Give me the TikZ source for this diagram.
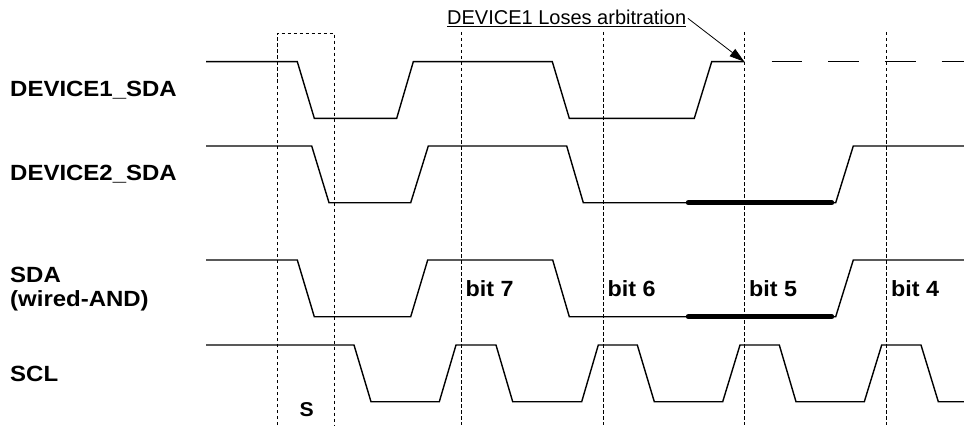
\documentclass[tikz,border=0pt]{standalone}
\usepackage{fontspec}
\setmainfont{Liberation Sans}
\newfontfamily\widefont[FakeStretch=1.06]{Liberation Sans}
\newfontfamily\widerfont[FakeStretch=1.09]{Liberation Sans}
\usetikzlibrary{arrows.meta}
\begin{document}
\begin{tikzpicture}[x=1pt,y=-1pt,
  sig/.style={line width=1.4pt, line join=miter},
  thick bus/.style={line width=5pt, line cap=round},
  grid line/.style={line width=0.8pt, dash pattern=on 3.5pt off 2.5pt},
  lost/.style={line width=1.4pt, dash pattern=on 30.6pt off 26pt},
  siglabel/.style={anchor=base west, inner sep=0pt, font=\widerfont\bfseries\fontsize{22}{24.4}\selectfont, align=left},
  bitlabel/.style={anchor=base west, inner sep=0pt, font=\widefont\bfseries\fontsize{22}{24}\selectfont},
  note/.style={anchor=base west, inner sep=1.5pt, font=\fontsize{20}{22}\selectfont}]
\useasboundingbox (0,0) rectangle (964,428);

% signal names
\node[siglabel] (l1) at (10,96.7) {DEVICE1\_SDA};
\node[siglabel] (l2) at (10,180.8) {DEVICE2\_SDA};
\node[siglabel] (l3) at (10,306.7) {SDA\\(wired-AND)};
\node[siglabel] (l4) at (10,381) {SCL};

% dashed grid
\draw[grid line] (277.3,425) -- (277.3,33.3) -- (334.3,33.3) -- (334.3,425);
\foreach \x in {461.7,603.3,744.3,886.7}
  \draw[grid line] (\x,32) -- (\x,425);

% DEVICE1_SDA
\draw[sig] (206,61.7) -- (297.3,61.7) -- (314.3,118.3) -- (396.7,118.3) -- (413.3,61.7)
  -- (552.3,61.7) -- (569.3,118.3) -- (694.3,118.3) -- (711.7,61.7) -- (744.3,61.7);
\draw[lost] (771.7,61.7) -- (964,61.7);

% DEVICE2_SDA
\draw[sig] (206,146) -- (311.7,146) -- (329,202.7) -- (410.7,202.7) -- (428.3,146)
  -- (566.7,146) -- (583.3,202.7) -- (835.7,202.7) -- (853.3,146) -- (964,146);
\draw[thick bus] (688.3,202.7) -- (831.7,202.7);

% SDA
\draw[sig] (206,260) -- (297.3,260) -- (314.3,316.7) -- (410.7,316.7) -- (427.7,260)
  -- (552.7,260) -- (569.3,316.7) -- (835.7,316.7) -- (853.3,260) -- (964,260);
\draw[thick bus] (688.3,316.7) -- (831.7,316.7);

% SCL
\draw[sig] (206,345) -- (354,345) -- (371,401.7) -- (439.3,401.7) -- (456,345)
  -- (496,345) -- (512.7,401.7) -- (581.7,401.7) -- (598.3,345) -- (637.3,345)
  -- (654.3,401.7) -- (722.7,401.7) -- (740,345) -- (779.3,345) -- (796,401.7)
  -- (864.3,401.7) -- (881.7,345) -- (921,345) -- (938.3,401.7) -- (964,401.7);

% bit labels
\node[bitlabel] (b7) at (465.5,296) {bit 7};
\node[bitlabel] (b6) at (607.5,296) {bit 6};
\node[bitlabel] (b5) at (749,296) {bit 5};
\node[bitlabel] (b4) at (891,296) {bit 4};
\node[bitlabel, font=\widefont\bfseries\fontsize{20}{22}\selectfont] (s) at (299.5,416) {S};

% annotation
\node[note] (lose) at (445.5,24.5) {\underline{DEVICE1 Loses arbitration}};
\coordinate (lostpt) at (744.3,61.7);
\draw[line width=0.8pt, -{Triangle[length=15pt,width=9pt]}] (lose.east) -- (lostpt);
\end{tikzpicture}
\end{document}
